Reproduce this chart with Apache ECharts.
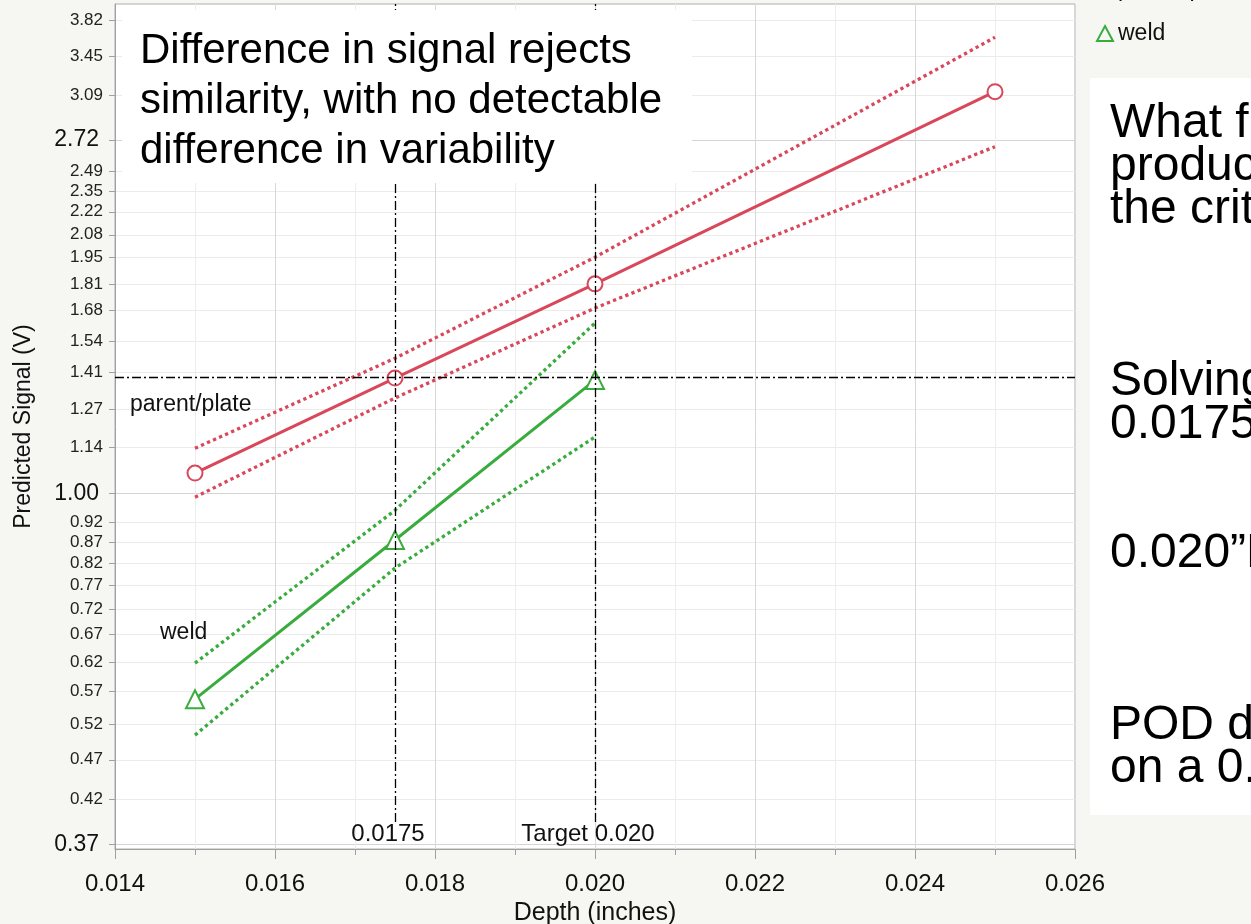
<!DOCTYPE html>
<html>
<head>
<meta charset="utf-8">
<script src="https://cdn.jsdelivr.net/npm/echarts@6/dist/echarts.min.js"></script>
<style>
  html, body { margin: 0; padding: 0; background: #f6f6f2; }
  #main { width: 1251px; height: 924px; }
</style>
</head>
<body>
<div id="main"></div>
<script>
// values
var depths = [0.015, 0.0175, 0.020, 0.025];
var plateFit = [1.059, 1.386, 1.81, 3.12];
var plateUpper = [1.136, 1.466, 1.952, 3.64];
var plateLower = [0.989, 1.31, 1.69, 2.67];

var weldDepths = [0.015, 0.0175, 0.020];
var weldFit = [0.558, 0.876, 1.378];
var weldUpper = [0.618, 0.953, 1.62];
var weldLower = [0.504, 0.809, 1.173];

var yTicks = [0.37, 0.42, 0.47, 0.52, 0.57, 0.62, 0.67, 0.72, 0.77, 0.82, 0.87, 0.92,
  1.00, 1.14, 1.27, 1.41, 1.54, 1.68, 1.81, 1.95, 2.08, 2.22, 2.35, 2.49, 2.72, 3.09, 3.45, 3.82];
var yMajor = [0.37, 1.00, 2.72];

var refDepths = [0.0175, 0.020];
var refLabels = ['0.0175', 'Target 0.020'];
var refSignal = 1.386;
var refBottom = 0.394;
var refTop = 4.0;

var RED = '#d8475a';
var GREEN = '#3aac3e';
var FONT = 'Liberation Sans';

function pairs(xs, ys) {
  return xs.map(function (x, i) { return [x, ys[i]]; });
}

function bandSeries(xs, ys, color) {
  return {
    type: 'line',
    data: pairs(xs, ys),
    showSymbol: false,
    silent: true,
    z: 2,
    lineStyle: { color: color, width: 3.3, type: [3.3, 3.3] }
  };
}

var refLines = refDepths.map(function (d, i) {
  return [
    { coord: [d, refBottom], label: { formatter: refLabels[i] } },
    { coord: [d, refTop] }
  ];
});
refLines.push({ yAxis: refSignal, label: { show: false } });

let myChart = echarts.init(document.getElementById('main'));

let option = {
  backgroundColor: '#f6f6f2',
  animation: false,
  textStyle: { fontFamily: FONT },
  grid: {
    left: 115, right: 176, top: 4, bottom: 75,
    outerBoundsMode: 'none',
    show: true, backgroundColor: '#fff', borderColor: '#b0b0b0', borderWidth: 1
  },
  legend: {
    orient: 'vertical',
    left: 1091,
    top: -27,
    itemWidth: 16,
    itemHeight: 15,
    itemGap: 21,
    textStyle: { fontSize: 23, color: '#111', fontFamily: FONT },
    data: [
      { name: 'parent/plate', icon: 'circle', itemStyle: { color: 'transparent', borderColor: RED, borderWidth: 2 } },
      { name: 'weld', icon: 'triangle', itemStyle: { color: 'transparent', borderColor: GREEN, borderWidth: 2 } }
    ]
  },
  xAxis: {
    type: 'value',
    min: 0.014,
    max: 0.026,
    interval: 0.002,
    name: 'Depth (inches)',
    nameLocation: 'middle',
    nameGap: 49,
    nameTextStyle: { fontSize: 25, color: '#111', fontFamily: FONT },
    axisLine: { show: true, lineStyle: { color: '#a0a0a0' } },
    axisTick: { show: true, length: 10, lineStyle: { color: '#a0a0a0' } },
    minorTick: { show: true, splitNumber: 2, length: 6, lineStyle: { color: '#a0a0a0' } },
    axisLabel: {
      margin: 23, fontSize: 24, color: '#111', fontFamily: FONT,
      formatter: function (v) { return v.toFixed(3); }
    },
    splitLine: { show: true, lineStyle: { color: '#d8d8d8' } },
    minorSplitLine: { show: true, lineStyle: { color: '#ededed' } }
  },
  yAxis: {
    type: 'log',
    logBase: Math.E,
    min: 0.365,
    max: 4.0,
    name: 'Predicted Signal (V)',
    nameLocation: 'middle',
    nameGap: 80,
    nameTextStyle: { fontSize: 23, color: '#111', fontFamily: FONT },
    axisLine: { show: true, lineStyle: { color: '#a0a0a0' } },
    axisTick: { show: true, customValues: yTicks, length: 6, lineStyle: { color: '#a0a0a0' } },
    axisLabel: {
      customValues: yTicks,
      margin: 12,
      fontSize: 17,
      color: '#222',
      fontFamily: FONT,
      formatter: function (v) {
        var s = Number(v).toFixed(2);
        return yMajor.indexOf(Number(s)) >= 0 ? '{big|' + s + '}' : s;
      },
      rich: { big: { fontSize: 23, color: '#111', fontFamily: FONT, padding: [0, 4, 0, 0] } }
    },
    splitLine: {
      show: true,
      lineStyle: {
        color: yTicks.map(function (v) { return yMajor.indexOf(v) >= 0 ? '#d4d4d4' : '#ebebeb'; })
      }
    }
  },
  graphic: [
    { type: 'rect', z: 50, shape: { x: 122, y: 10, width: 570, height: 173 }, style: { fill: '#fff' } },
    {
      type: 'text', z: 51, x: 140, y: 26,
      style: {
        text: 'Difference in signal rejects\nsimilarity, with no detectable\ndifference in variability',
        font: '42px "Liberation Sans"', lineHeight: 50, fill: '#000', verticalAlign: 'top'
      }
    },
    { type: 'text', z: 51, x: 130, y: 405, style: { text: 'parent/plate', font: '23px "Liberation Sans"', fill: '#111', verticalAlign: 'middle' } },
    { type: 'text', z: 51, x: 160, y: 633, style: { text: 'weld', font: '23px "Liberation Sans"', fill: '#111', verticalAlign: 'middle' } },
    { type: 'rect', z: 50, shape: { x: 1090, y: 78, width: 200, height: 737 }, style: { fill: '#fff' } },
    {
      type: 'text', z: 51, x: 1110, y: 102,
      style: {
        text: 'What flaw size\nproduces\nthe critical\n\n\n\nSolving for\n0.0175”\n\n\n0.020”D\n\n\n\nPOD determined\non a 0.020”',
        font: '48px "Liberation Sans"', lineHeight: 43, fill: '#000', verticalAlign: 'top'
      }
    }
  ],
  series: [
    bandSeries(depths, plateUpper, RED),
    bandSeries(depths, plateLower, RED),
    bandSeries(weldDepths, weldUpper, GREEN),
    bandSeries(weldDepths, weldLower, GREEN),
    {
      name: 'parent/plate',
      type: 'line',
      data: pairs(depths, plateFit),
      symbol: 'emptyCircle',
      symbolSize: 15,
      z: 4,
      lineStyle: { color: RED, width: 3 },
      itemStyle: { color: RED, borderWidth: 2 },
      markLine: {
        silent: true,
        symbol: ['none', 'none'],
        lineStyle: { color: '#000', width: 1.3, type: [9, 3, 2, 3] },
        label: {
          show: true, position: 'start', distance: 0, padding: [0, 14, 0, 0],
          fontSize: 24, color: '#111', fontFamily: FONT
        },
        data: refLines
      }
    },
    {
      name: 'weld',
      type: 'line',
      data: pairs(weldDepths, weldFit),
      symbol: 'emptyTriangle',
      symbolSize: 18,
      z: 4,
      lineStyle: { color: GREEN, width: 3 },
      itemStyle: { color: GREEN, borderWidth: 2 }
    }
  ]
};

myChart.setOption(option);
</script>
</body>
</html>
